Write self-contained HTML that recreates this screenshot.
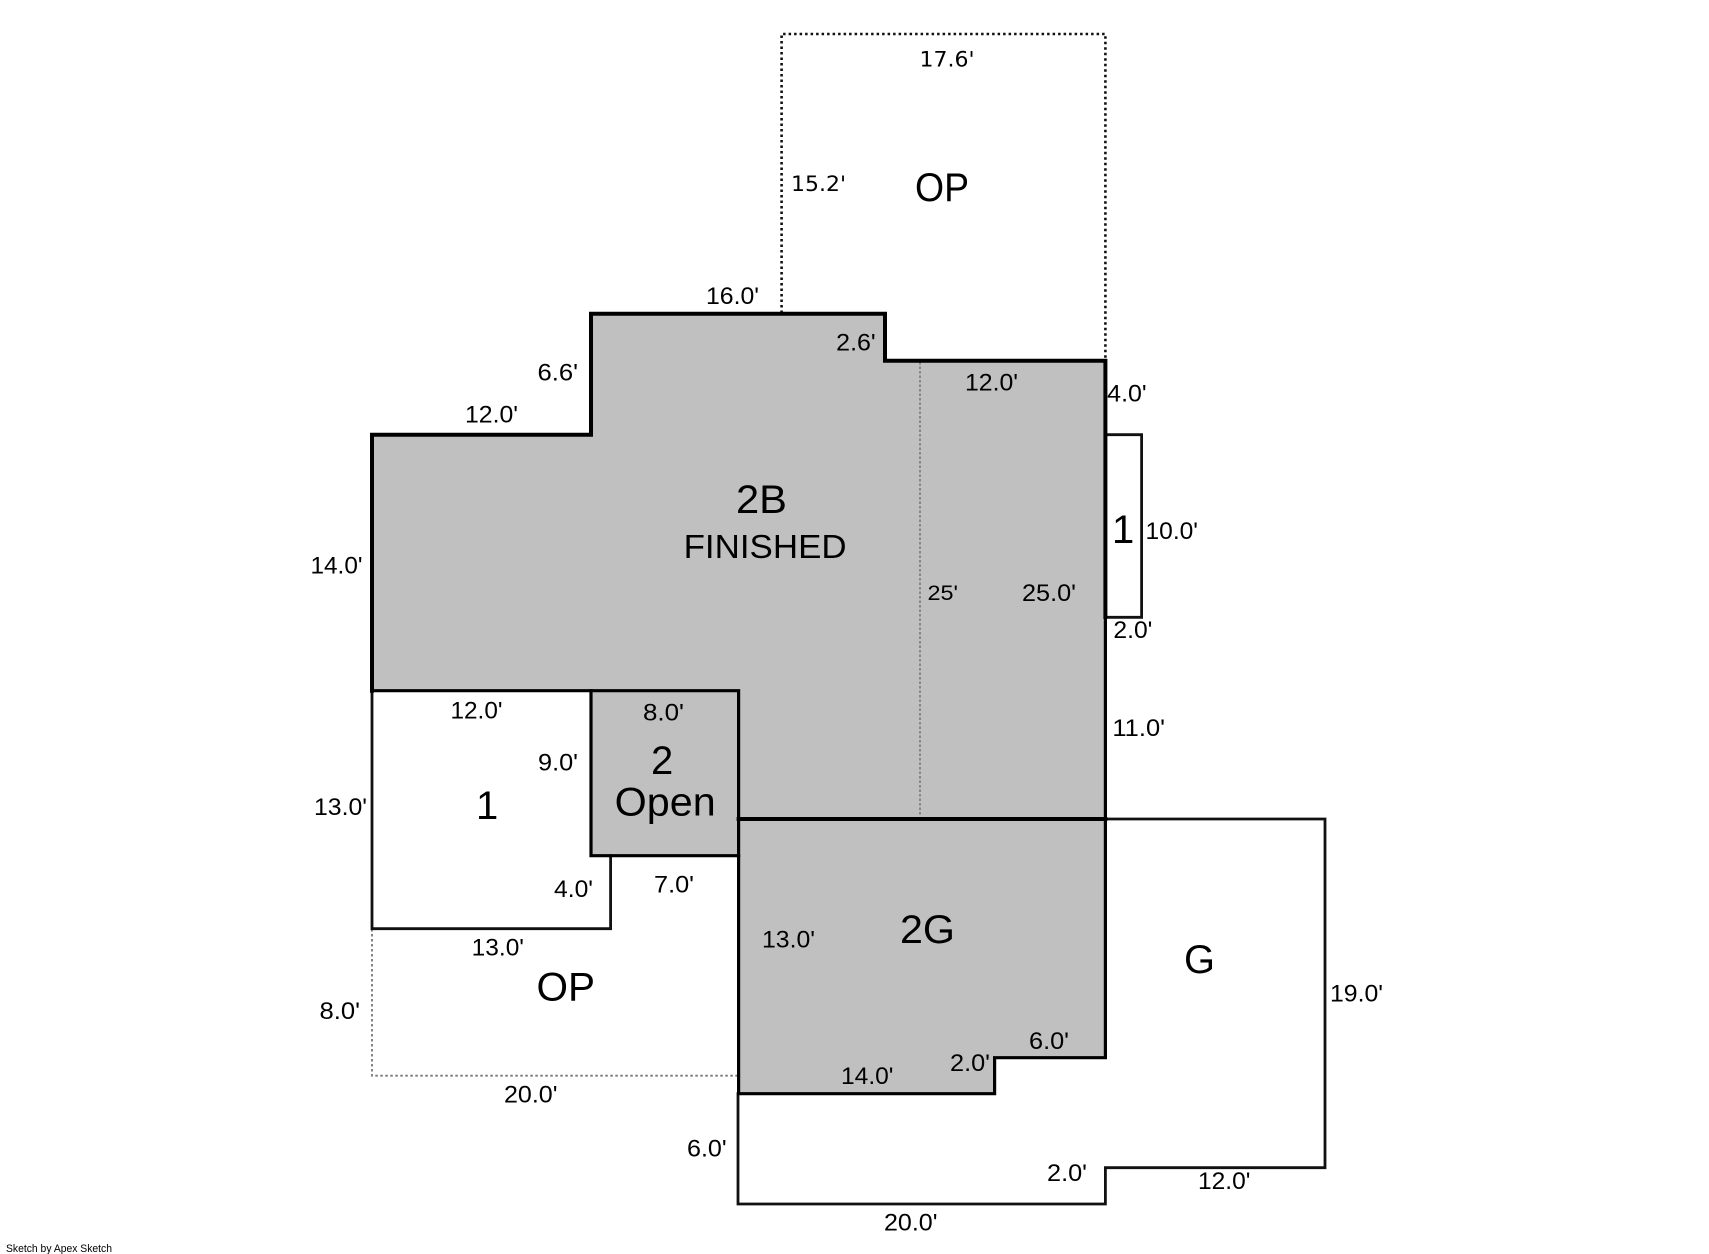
<!DOCTYPE html>
<html>
<head>
<meta charset="utf-8">
<style>
html,body{margin:0;padding:0;background:#fff;width:1709px;height:1254px;overflow:hidden}
svg{display:block}
text{font-family:"Liberation Sans",Arial,sans-serif;fill:#000;font-size:24px}
.l{font-size:40px}
.v{font-family:"DejaVu Sans",sans-serif;font-size:21px}
</style>
</head>
<body>
<svg width="1709" height="1254" viewBox="0 0 1709 1254" xmlns="http://www.w3.org/2000/svg">
<g fill="none" stroke="#111" stroke-width="2.6" stroke-linejoin="miter">
<path d="M781.6 313V34H1105.4V360" stroke-dasharray="2.5 3" stroke-width="2.6"/>
<path d="M372 929V1075.7H738" stroke="#777" stroke-dasharray="2.5 2.5" stroke-width="1.8"/>
</g>
<g fill="#c0c0c0" stroke="none">
<path d="M372 434.7H591V313.7H885V360.7H1105.4V819H738.6V855.7H591V690.7H372Z"/>
<path d="M738.6 819H1105.4V1057.7H994.6V1093.7H738.6Z"/>
</g>
<path d="M920 362V816" stroke="#777" stroke-width="1.6" stroke-dasharray="2.5 2" fill="none"/>
<g fill="none" stroke="#111" stroke-width="2.8" stroke-linecap="square">
<path d="M372 690.7V928.7H610.6V855.7"/>
<path d="M1105.4 819H1325V1167.7H1105.4V1204H738V1093.7"/>
<path d="M1105.4 434.7H1141.6V617.3H1105.4"/>
</g>
<g fill="none" stroke="#000" stroke-width="3.2" stroke-linecap="square">
<path d="M1105.4 617V819"/>
<path d="M372 690.7H738.6V1093.7H994.6V1057.7H1105.4V819"/>
<path d="M591 690.7V855.7H738.6"/>
</g>
<g fill="none" stroke="#000" stroke-width="4" stroke-linecap="square">
<path d="M1105.4 617V360.7H885V313.7H591V434.7H372V690.7"/>
<path d="M738.6 819H1105.4"/>
</g>

<text class="v" x="919.5" y="66.7" textLength="55" lengthAdjust="spacingAndGlyphs">17.6'</text>
<text class="v" x="791" y="191" textLength="55" lengthAdjust="spacingAndGlyphs">15.2'</text>
<text class="l" x="915" y="201" textLength="54" lengthAdjust="spacingAndGlyphs">OP</text>
<text x="706" y="304" textLength="53" lengthAdjust="spacingAndGlyphs">16.0'</text>
<text x="836.2" y="350.7" textLength="39.5" lengthAdjust="spacingAndGlyphs">2.6'</text>
<text x="537.5" y="380.7" textLength="40.5" lengthAdjust="spacingAndGlyphs">6.6'</text>
<text x="465" y="422.7" textLength="53" lengthAdjust="spacingAndGlyphs">12.0'</text>
<text x="965" y="390.7" textLength="53" lengthAdjust="spacingAndGlyphs">12.0'</text>
<text x="1107.2" y="401.7" textLength="39.5" lengthAdjust="spacingAndGlyphs">4.0'</text>
<text class="l" x="736" y="513" textLength="51" lengthAdjust="spacingAndGlyphs">2B</text>
<text x="683.6" y="558" style="font-size:33px" textLength="163" lengthAdjust="spacingAndGlyphs">FINISHED</text>
<text x="310.5" y="573.5" textLength="52" lengthAdjust="spacingAndGlyphs">14.0'</text>
<text x="927.5" y="600" style="font-size:21px" textLength="30.5" lengthAdjust="spacingAndGlyphs">25'</text>
<text x="1022" y="601" textLength="54" lengthAdjust="spacingAndGlyphs">25.0'</text>
<text x="1145.5" y="539" textLength="52.5" lengthAdjust="spacingAndGlyphs">10.0'</text>
<text class="l" x="1112" y="543">1</text>
<text x="1113.4" y="638" textLength="39" lengthAdjust="spacingAndGlyphs">2.0'</text>
<text x="450.5" y="718.7" textLength="52" lengthAdjust="spacingAndGlyphs">12.0'</text>
<text x="643" y="720.5" textLength="41" lengthAdjust="spacingAndGlyphs">8.0'</text>
<text x="538" y="770.7" textLength="40" lengthAdjust="spacingAndGlyphs">9.0'</text>
<text class="l" x="651" y="774">2</text>
<text class="l" x="614.7" y="815.7" textLength="101" lengthAdjust="spacingAndGlyphs">Open</text>
<text class="l" x="476" y="819">1</text>
<text x="314" y="815" textLength="53" lengthAdjust="spacingAndGlyphs">13.0'</text>
<text x="1112.4" y="736" textLength="52.6" lengthAdjust="spacingAndGlyphs">11.0'</text>
<text x="654" y="892.7" textLength="40" lengthAdjust="spacingAndGlyphs">7.0'</text>
<text x="554" y="897" textLength="39" lengthAdjust="spacingAndGlyphs">4.0'</text>
<text x="762" y="947.7" textLength="53" lengthAdjust="spacingAndGlyphs">13.0'</text>
<text class="l" x="900" y="943" textLength="55" lengthAdjust="spacingAndGlyphs">2G</text>
<text x="471.7" y="955.7" textLength="52.3" lengthAdjust="spacingAndGlyphs">13.0'</text>
<text class="l" x="536.5" y="1000.5" textLength="58.5" lengthAdjust="spacingAndGlyphs">OP</text>
<text class="l" x="1184" y="973" textLength="31" lengthAdjust="spacingAndGlyphs">G</text>
<text x="1330" y="1001.7" textLength="53" lengthAdjust="spacingAndGlyphs">19.0'</text>
<text x="1029" y="1049" textLength="40" lengthAdjust="spacingAndGlyphs">6.0'</text>
<text x="950" y="1071" textLength="40" lengthAdjust="spacingAndGlyphs">2.0'</text>
<text x="841" y="1084" textLength="52.5" lengthAdjust="spacingAndGlyphs">14.0'</text>
<text x="1047" y="1181" textLength="40" lengthAdjust="spacingAndGlyphs">2.0'</text>
<text x="1198" y="1189" textLength="52.4" lengthAdjust="spacingAndGlyphs">12.0'</text>
<text x="884" y="1230.7" textLength="53.5" lengthAdjust="spacingAndGlyphs">20.0'</text>
<text x="319.5" y="1019" textLength="40.5" lengthAdjust="spacingAndGlyphs">8.0'</text>
<text x="504" y="1102.7" textLength="53.5" lengthAdjust="spacingAndGlyphs">20.0'</text>
<text x="687" y="1156.7" textLength="39.7" lengthAdjust="spacingAndGlyphs">6.0'</text>
<text x="6" y="1252" style="font-size:11px" textLength="106" lengthAdjust="spacingAndGlyphs">Sketch by Apex Sketch</text>
</svg>
</body>
</html>
